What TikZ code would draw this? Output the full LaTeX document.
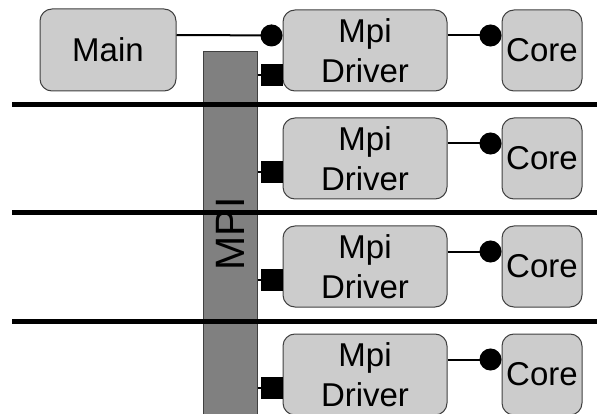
\documentclass[tikz,border=0pt]{standalone}
\usepackage{fontspec}
\setmainfont{Liberation Sans}
\usetikzlibrary{arrows.meta}
\definecolor{boxGray}{gray}{0.8}
\definecolor{barGray}{gray}{0.5}
\definecolor{edgeGray}{gray}{0.25}
\tikzset{
  unit/.style={draw=edgeGray, fill=boxGray, rounded corners=12pt, line width=1pt,
    inner sep=0pt, align=center, font=\fontsize{33}{40}\selectfont},
  bus/.style={draw=edgeGray, fill=barGray, line width=1pt, inner sep=0pt},
  ball/.style={-{Circle[length=22pt, width=22pt]}, line width=2pt},
  plug/.style={-{Square[length=22pt, width=22pt]}, line width=2pt},
  divider/.style={line width=5pt},
}

\begin{document}
\begin{tikzpicture}[x=1pt, y=-1pt]
  \useasboundingbox (0,0) rectangle (597,414);

  \node[bus, minimum width=54pt, minimum height=364pt] (mpi) at (230,234) {};
  \node[rotate=90, inner sep=0pt, font=\fontsize{41}{42}\selectfont] (mpilabel) at (mpi.center) {MPI};

  \foreach \y in {105,213,321}
    \draw[divider] (12,\y) -- (597,\y);

  \node[unit, minimum width=136pt, minimum height=82pt] (main) at (108,50) {Main};

  \foreach \i/\y/\s in {1/50.5/-24.5, 2/158.5/-13.5, 3/266.5/-13.5, 4/374.5/-13.5} {
    \node[unit, minimum width=164pt, minimum height=81pt] (drv\i) at (365,\y) {Mpi\\Driver};
    \node[unit, minimum width=80pt, minimum height=81pt] (core\i) at (542,\y) {Core};
    \coordinate (plug\i) at ([yshift=\s pt]drv\i.west);
    \draw[ball] ([yshift=15pt]drv\i.east) -- ([yshift=15pt]core\i.west);
    \draw[plug] (plug\i -| mpi.east) -- (plug\i);
  }

  \draw[ball] ([yshift=15pt]main.east) -- ([yshift=15pt]drv1.west);

\end{tikzpicture}
\end{document}
